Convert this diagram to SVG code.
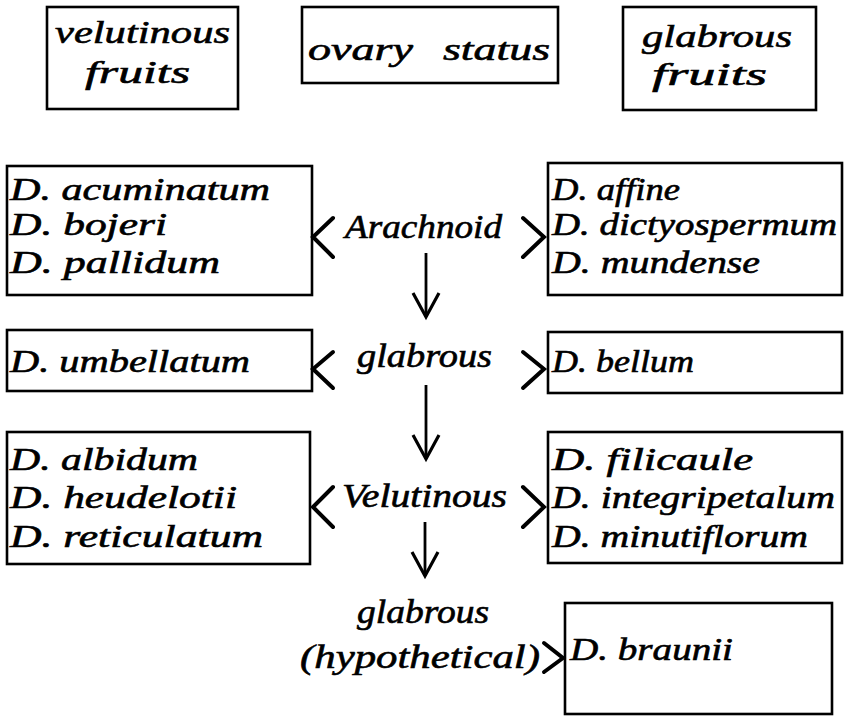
<svg xmlns="http://www.w3.org/2000/svg" width="845" height="717" viewBox="0 0 845 717">
<defs>
<style>
.box{fill:#fff;stroke:#000;stroke-width:2.6}
.t{font-family:"Liberation Serif","DejaVu Serif",serif;font-style:italic;font-size:31px;fill:#000;stroke:#000;stroke-width:0.6}
.h{font-size:32px}
.c{font-size:33px}
.chev{fill:none;stroke:#000;stroke-width:4;stroke-linejoin:miter;stroke-linecap:round}
.down{fill:none;stroke:#000;stroke-width:2.8}
</style>
<marker id="vh" markerUnits="userSpaceOnUse" viewBox="-30 -16 34 32" refX="0" refY="0" markerWidth="34" markerHeight="32" orient="auto" overflow="visible">
<path d="M-24,-13 L0,0 L-24,13" fill="none" stroke="#000" stroke-width="3.2" stroke-linejoin="miter"/>
</marker>
</defs>
<rect width="845" height="717" fill="#fff"/>

<g id="hdr-velutinous">
<rect class="box" x="47" y="7" width="191" height="102"/>
<text class="t h" x="55" y="43" textLength="175" lengthAdjust="spacingAndGlyphs">velutinous</text>
<text class="t h" x="85" y="83" textLength="105" lengthAdjust="spacingAndGlyphs">fruits</text>
</g>
<g id="hdr-ovary">
<rect class="box" x="302" y="7" width="256" height="76"/>
<text class="t h" x="308" y="60" textLength="105" lengthAdjust="spacingAndGlyphs">ovary</text>
<text class="t h" x="443" y="60" textLength="107" lengthAdjust="spacingAndGlyphs">status</text>
</g>
<g id="hdr-glabrous">
<rect class="box" x="623" y="7" width="193" height="103"/>
<text class="t h" x="642" y="47" textLength="150" lengthAdjust="spacingAndGlyphs">glabrous</text>
<text class="t h" x="652" y="85" textLength="115" lengthAdjust="spacingAndGlyphs">fruits</text>
</g>

<g id="left-arachnoid">
<rect class="box" x="7" y="166" width="305" height="129"/>
<text class="t" x="10" y="200" textLength="260" lengthAdjust="spacingAndGlyphs">D. acuminatum</text>
<text class="t" x="10" y="235" textLength="157" lengthAdjust="spacingAndGlyphs">D. bojeri</text>
<text class="t" x="10" y="273" textLength="210" lengthAdjust="spacingAndGlyphs">D. pallidum</text>
</g>
<g id="right-arachnoid">
<rect class="box" x="548" y="163" width="294" height="132"/>
<text class="t" x="552" y="200" textLength="128" lengthAdjust="spacingAndGlyphs">D. affine</text>
<text class="t" x="552" y="235" textLength="285" lengthAdjust="spacingAndGlyphs">D. dictyospermum</text>
<text class="t" x="552" y="273" textLength="208" lengthAdjust="spacingAndGlyphs">D. mundense</text>
</g>
<g id="arachnoid">
<text class="t c" x="345" y="238" textLength="157" lengthAdjust="spacingAndGlyphs">Arachnoid</text>
</g>

<g id="left-glabrous">
<rect class="box" x="7" y="330" width="305" height="61"/>
<text class="t" x="10" y="372" textLength="240" lengthAdjust="spacingAndGlyphs">D. umbellatum</text>
</g>
<g id="right-glabrous">
<rect class="box" x="548" y="332" width="294" height="61"/>
<text class="t" x="552" y="372" textLength="142" lengthAdjust="spacingAndGlyphs">D. bellum</text>
</g>
<g id="glabrous">
<text class="t c" x="357" y="367" textLength="135" lengthAdjust="spacingAndGlyphs">glabrous</text>
</g>

<g id="left-velutinous">
<rect class="box" x="7" y="432" width="303" height="132"/>
<text class="t" x="10" y="470" textLength="188" lengthAdjust="spacingAndGlyphs">D. albidum</text>
<text class="t" x="10" y="508" textLength="227" lengthAdjust="spacingAndGlyphs">D. heudelotii</text>
<text class="t" x="10" y="547" textLength="253" lengthAdjust="spacingAndGlyphs">D. reticulatum</text>
</g>
<g id="right-velutinous">
<rect class="box" x="548" y="432" width="294" height="131"/>
<text class="t" x="552" y="470" textLength="201" lengthAdjust="spacingAndGlyphs">D. filicaule</text>
<text class="t" x="552" y="508" textLength="283" lengthAdjust="spacingAndGlyphs">D. integripetalum</text>
<text class="t" x="552" y="547" textLength="256" lengthAdjust="spacingAndGlyphs">D. minutiflorum</text>
</g>
<g id="velutinous">
<text class="t c" x="342" y="507" textLength="165" lengthAdjust="spacingAndGlyphs">Velutinous</text>
</g>

<g id="hypothetical">
<text class="t c" x="357" y="623" textLength="132" lengthAdjust="spacingAndGlyphs">glabrous</text>
<text class="t c" x="300" y="668" textLength="240" lengthAdjust="spacingAndGlyphs">(hypothetical)</text>
</g>
<g id="right-hypothetical">
<rect class="box" x="565" y="603" width="267" height="111"/>
<text class="t" x="570" y="660" textLength="163" lengthAdjust="spacingAndGlyphs">D. braunii</text>
</g>

<g id="connectors">
<path class="chev" d="M333,218 L313,237 L333,257"/>
<path class="chev" d="M523,218 L544,237 L523,257"/>
<path class="chev" d="M333,352 L313,369 L333,388"/>
<path class="chev" d="M523,352 L544,369 L523,388"/>
<path class="chev" d="M333,487 L313,507 L333,527"/>
<path class="chev" d="M523,487 L544,507 L523,527"/>
<path class="chev" d="M544,643 L563,658 L544,672"/>
<line class="down" x1="426" y1="253" x2="426" y2="317" marker-end="url(#vh)"/>
<line class="down" x1="426" y1="385" x2="426" y2="459" marker-end="url(#vh)"/>
<line class="down" x1="425" y1="522" x2="425" y2="576" marker-end="url(#vh)"/>
</g>
</svg>
